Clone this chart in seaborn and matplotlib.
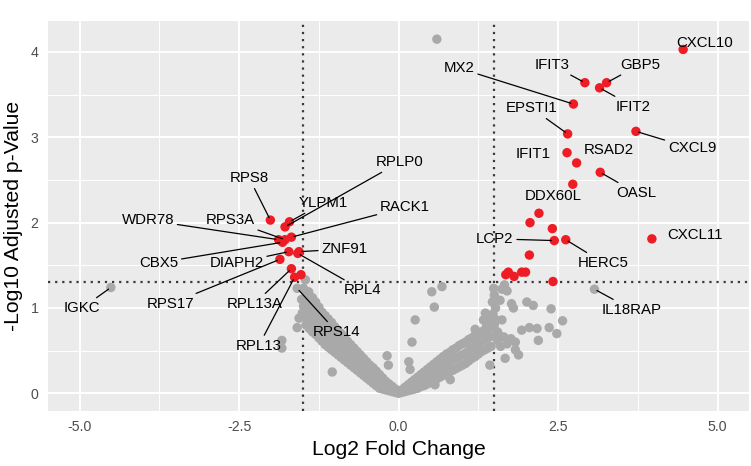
import matplotlib
matplotlib.use("Agg")
import matplotlib.pyplot as plt
from matplotlib.ticker import MultipleLocator, FixedLocator
import seaborn as sns
import pandas as pd

# ---------------- data ----------------
# significant genes (red)
sig_genes = ["CXCL10", "IFIT3", "GBP5", "IFIT2", "MX2", "EPSTI1", "CXCL9", "IFIT1",
             "RSAD2", "OASL", "DDX60L", "", "", "", "CXCL11", "LCP2", "HERC5", "",
             "", "", "", "", "", "",
             "RPS8", "YLPM1", "RPLP0", "RACK1", "WDR78", "RPS3A", "CBX5", "DIAPH2",
             "ZNF91", "RPL4", "RPS17", "RPL13A", "RPL13", ""]
sig_lfc = [4.46, 2.92, 3.26, 3.15, 2.74, 2.65, 3.72, 2.64,
           2.79, 3.16, 2.73, 2.20, 2.06, 2.41, 3.97, 2.44, 2.62, 2.05,
           1.72, 1.68, 1.81, 1.93, 1.99, 2.42,
           -2.01, -1.71, -1.78, -1.68, -1.88, -1.78, -1.82, -1.72,
           -1.56, -1.58, -1.86, -1.68, -1.63, -1.53]
sig_p = [4.03, 3.64, 3.64, 3.58, 3.39, 3.04, 3.07, 2.82,
         2.70, 2.59, 2.45, 2.11, 2.00, 1.93, 1.81, 1.79, 1.80, 1.62,
         1.42, 1.39, 1.37, 1.42, 1.42, 1.31,
         2.03, 2.01, 1.95, 1.83, 1.80, 1.80, 1.77, 1.66,
         1.66, 1.64, 1.57, 1.46, 1.36, 1.39]

# labelled non-significant genes (gray)
ns_genes = ["IGKC", "IL18RAP", "RPS14"]
ns_lfc = [-4.51, 3.07, -1.59]
ns_p = [1.24, 1.22, 1.23]

# bulk of non-significant genes: log2FC -> list of -log10 adj p-values
left_arm = {
    -1.45: [0.80, 0.88, 0.96, 1.04, 1.12, 1.18],
    -1.40: [0.76, 0.84, 0.92, 1.00, 1.08, 1.15],
    -1.35: [0.72, 0.80, 0.88, 0.96, 1.04, 1.12],
    -1.30: [0.69, 0.77, 0.85, 0.93, 1.00, 1.07],
    -1.25: [0.65, 0.73, 0.81, 0.89, 0.96, 1.01],
    -1.20: [0.61, 0.69, 0.77, 0.85, 0.95],
    -1.15: [0.57, 0.65, 0.73, 0.81, 0.91],
    -1.10: [0.54, 0.62, 0.70, 0.78, 0.87],
    -1.05: [0.51, 0.59, 0.67, 0.75, 0.83],
    -1.00: [0.48, 0.56, 0.64, 0.72, 0.78],
    -0.95: [0.45, 0.53, 0.61, 0.68, 0.74],
    -0.90: [0.42, 0.50, 0.58, 0.65, 0.70],
    -0.85: [0.39, 0.47, 0.55, 0.65],
    -0.80: [0.36, 0.44, 0.52, 0.61],
    -0.75: [0.33, 0.41, 0.49, 0.57],
    -0.70: [0.30, 0.38, 0.46, 0.53],
    -0.65: [0.27, 0.35, 0.42, 0.49],
    -0.60: [0.24, 0.32, 0.39, 0.45],
    -0.55: [0.21, 0.28, 0.35, 0.41],
    -0.50: [0.18, 0.25, 0.31, 0.37],
    -0.45: [0.15, 0.22, 0.28, 0.33],
    -0.40: [0.12, 0.19, 0.25, 0.30],
    -0.35: [0.09, 0.16, 0.21, 0.26],
    -0.30: [0.06, 0.12, 0.17, 0.22],
    -0.25: [0.05, 0.11, 0.18],
    -0.20: [0.04, 0.09, 0.14],
    -0.15: [0.03, 0.07, 0.11],
    -0.10: [0.02, 0.05, 0.08],
    -0.05: [0.01, 0.03, 0.05],
    0.00: [0.00, 0.03],
}
right_arm = {
    0.05: [0.01, 0.04],
    0.10: [0.02, 0.07],
    0.15: [0.03, 0.10],
    0.20: [0.04, 0.09, 0.13],
    0.25: [0.05, 0.10, 0.16],
    0.30: [0.06, 0.12, 0.19],
    0.35: [0.08, 0.15, 0.22],
    0.40: [0.09, 0.17, 0.25],
    0.45: [0.11, 0.19, 0.28],
    0.50: [0.13, 0.22, 0.31],
    0.55: [0.15, 0.24, 0.34],
    0.60: [0.17, 0.27, 0.37],
    0.65: [0.19, 0.29, 0.40],
    0.70: [0.21, 0.32, 0.43],
    0.75: [0.23, 0.34, 0.46],
    0.80: [0.25, 0.37, 0.48],
    0.85: [0.27, 0.39, 0.51],
    0.90: [0.29, 0.41, 0.53],
    0.95: [0.31, 0.43, 0.56],
    1.00: [0.33, 0.45, 0.58],
    1.05: [0.35, 0.47, 0.60],
    1.10: [0.38, 0.50, 0.63],
    1.15: [0.41, 0.53, 0.65],
    1.20: [0.43, 0.55, 0.68],
    1.25: [0.46, 0.58, 0.70],
    1.30: [0.49, 0.61, 0.72],
    1.35: [0.51, 0.63, 0.74],
    1.40: [0.53, 0.65, 0.76],
    1.45: [0.55, 0.67, 0.78],
}
scatter_lfc = [-1.49, -1.46, -1.41, -1.52, -1.49, -1.51, -1.56, -1.59, -1.83, -1.83,
               -1.04, -0.18, -0.16, 0.60, 0.52, 0.68, 0.56, 0.26, 0.21, 0.16, 0.18,
               0.57, 0.81,
               1.49, 1.50, 1.47, 1.52, 1.48, 1.53, 1.50, 1.55, 1.62, 1.70, 1.66,
               1.59, 1.62, 1.36, 1.33, 1.41, 1.38, 1.20, 1.77, 1.80, 2.01, 2.11,
               2.39, 2.57, 2.36, 2.48, 1.93, 2.05, 2.17, 2.19, 1.83, 1.76, 1.88,
               1.67, 1.43, 1.60, 1.70, 1.55, 1.65, 1.56, 1.83]
scatter_p = [1.23, 1.33, 1.19, 1.10, 1.02, 0.94, 0.88, 0.77, 0.62, 0.53,
             0.25, 0.44, 0.33, 4.15, 1.19, 1.25, 1.01, 0.86, 0.60, 0.37, 0.28,
             0.10, 0.16,
             1.23, 1.15, 1.07, 1.00, 0.93, 0.86, 0.80, 0.72, 1.22, 1.20, 1.27,
             1.09, 0.86, 0.94, 0.86, 0.86, 0.80, 0.75, 1.05, 1.00, 1.07, 1.03,
             0.99, 0.85, 0.77, 0.70, 0.74, 0.77, 0.76, 0.62, 0.60, 0.64, 0.45,
             0.41, 0.33, 0.55, 0.58, 0.62, 0.66, 0.70, 0.51]

x_ticks = [-5.0, -2.5, 0.0, 2.5, 5.0]
x_tick_labels = ["-5.0", "-2.5", "0.0", "2.5", "5.0"]
y_ticks = [0, 1, 2, 3, 4]
y_tick_labels = ["0", "1", "2", "3", "4"]
fc_cut = 1.5
p_cut = 1.3

# ---------------- layout of the repelled labels (label centre) ----------------
label_pos = {
    "CXCL10": (4.80, 4.11), "IFIT3": (2.40, 3.85), "GBP5": (3.78, 3.85),
    "IFIT2": (3.68, 3.36), "MX2": (0.95, 3.81), "EPSTI1": (2.09, 3.34),
    "CXCL9": (4.60, 2.87), "IFIT1": (2.11, 2.81), "RSAD2": (3.29, 2.85),
    "OASL": (3.72, 2.35), "DDX60L": (2.42, 2.31), "CXCL11": (4.65, 1.85),
    "LCP2": (1.51, 1.81), "HERC5": (3.21, 1.53), "IL18RAP": (3.66, 0.98),
    "RPS8": (-2.34, 2.52), "YLPM1": (-1.18, 2.23), "RPLP0": (0.02, 2.71),
    "RACK1": (0.10, 2.18), "WDR78": (-3.93, 2.03), "RPS3A": (-2.64, 2.03),
    "CBX5": (-3.76, 1.53), "DIAPH2": (-2.54, 1.53), "ZNF91": (-0.85, 1.69),
    "RPL4": (-0.57, 1.21), "RPS17": (-3.57, 1.05), "RPL13A": (-2.26, 1.05),
    "RPL13": (-2.19, 0.56), "RPS14": (-0.97, 0.72), "IGKC": (-4.96, 1.00),
}
no_segment = {"CXCL10", "IFIT1", "RSAD2", "DDX60L", "CXCL11"}

# ---------------- build table ----------------
rows = []
for arm in (left_arm, right_arm):
    for xv, ys in arm.items():
        for yv in ys:
            rows.append((xv, yv, "ns", ""))
for xv, yv in zip(scatter_lfc, scatter_p):
    rows.append((xv, yv, "ns", ""))
for g, xv, yv in zip(ns_genes, ns_lfc, ns_p):
    rows.append((xv, yv, "ns", g))
for g, xv, yv in zip(sig_genes, sig_lfc, sig_p):
    rows.append((xv, yv, "sig", g))
df = pd.DataFrame(rows, columns=["log2FC", "padj", "group", "gene"])

# ---------------- style ----------------
sns.set_theme(style="darkgrid")
plt.rcParams["font.family"] = ["Liberation Sans", "DejaVu Sans"]
plt.rcParams["axes.unicode_minus"] = False

fig = plt.figure(figsize=(7.51, 4.66), dpi=100)
ax = fig.add_axes([0.0635, 0.118, 0.9345, 0.8359])
ax.set_facecolor("#EBEBEB")

sns.scatterplot(data=df, x="log2FC", y="padj", hue="group",
                palette={"ns": "#A9A9A9", "sig": "#EE1C24"},
                s=46, linewidth=0, legend=False, ax=ax, zorder=3)

ax.set_xlim(-5.5, 5.5)
ax.set_ylim(-0.2075, 4.3575)

ax.xaxis.set_major_locator(FixedLocator(x_ticks))
ax.set_xticklabels(x_tick_labels)
ax.yaxis.set_major_locator(FixedLocator(y_ticks))
ax.set_yticklabels(y_tick_labels)
ax.xaxis.set_minor_locator(MultipleLocator(1.25))
ax.yaxis.set_minor_locator(MultipleLocator(0.5))
ax.grid(which="major", color="white", linewidth=1.4)
ax.grid(which="minor", color="white", linewidth=0.7)
ax.set_axisbelow(True)
for sp in ax.spines.values():
    sp.set_visible(False)
ax.tick_params(which="major", length=4.2, width=1.0, color="#333333",
               labelcolor="#4D4D4D", labelsize=10.2, pad=2.5)
ax.tick_params(which="minor", length=0)

ax.axvline(-fc_cut, color="#3A3A3A", linewidth=1.6, linestyle=(0, (1, 2.2)), zorder=2)
ax.axvline(fc_cut, color="#3A3A3A", linewidth=1.6, linestyle=(0, (1, 2.2)), zorder=2)
ax.axhline(p_cut, color="#3A3A3A", linewidth=1.6, linestyle=(0, (1, 2.2)), zorder=2)

ax.set_xlabel("Log2 Fold Change", fontsize=15.2, color="black", labelpad=4)
ax.set_ylabel("-Log10 Adjusted p-Value", fontsize=15.2, color="black", labelpad=5)

lab = df[df["gene"] != ""]
for _, r in lab.iterrows():
    tx, ty = label_pos[r["gene"]]
    if r["gene"] in no_segment:
        ax.text(tx, ty, r["gene"], fontsize=10.8, ha="center", va="center",
                color="black", zorder=5)
    else:
        ax.annotate(r["gene"], xy=(r["log2FC"], r["padj"]), xytext=(tx, ty),
                    fontsize=10.8, ha="center", va="center", color="black",
                    zorder=5,
                    arrowprops=dict(arrowstyle="-", color="black", lw=0.9,
                                    shrinkA=0, shrinkB=2))

fig.savefig("out.png", dpi=100)
